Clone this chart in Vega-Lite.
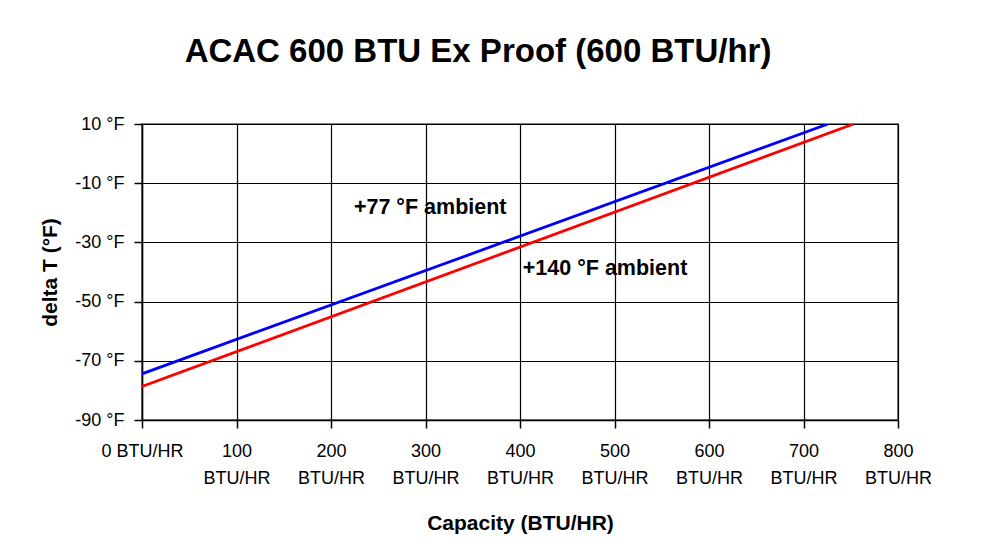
{
  "$schema": "https://vega.github.io/schema/vega-lite/v6.json",
  "width": 756,
  "height": 296,
  "autosize": {"type": "none"},
  "padding": {"left": 142, "top": 124, "right": 89, "bottom": 134},
  "background": "white",
  "title": {
    "text": "ACAC 600 BTU Ex Proof (600 BTU/hr)",
    "font": "Liberation Sans",
    "fontSize": 33,
    "fontWeight": "bold",
    "color": "black",
    "anchor": "middle",
    "frame": "group",
    "dx": -42,
    "baseline": "alphabetic",
    "offset": 20
  },
  "config": {
    "font": "Liberation Sans",
    "view": {"stroke": "#808080", "strokeWidth": 2},
    "axis": {
      "labelFont": "Liberation Sans",
      "labelFontSize": 18,
      "labelColor": "black",
      "titleFont": "Liberation Sans",
      "titleFontSize": 21,
      "titleFontWeight": "bold",
      "titleColor": "black",
      "domainColor": "black",
      "domainWidth": 1.5,
      "tickColor": "black",
      "tickWidth": 1.5,
      "tickSize": 8,
      "gridColor": "black",
      "gridWidth": 1.2,
      "gridOpacity": 1
    }
  },
  "datasets": {
    "lines": [
      {"capacity": 0, "deltaT": -74.4, "series": "+77 °F ambient"},
      {"capacity": 726, "deltaT": 10, "series": "+77 °F ambient"},
      {"capacity": 0, "deltaT": -78.7, "series": "+140 °F ambient"},
      {"capacity": 753, "deltaT": 10, "series": "+140 °F ambient"}
    ],
    "labels": [
      {"capacity": 305, "deltaT": -18.4, "label": "+77 °F ambient"},
      {"capacity": 490, "deltaT": -39, "label": "+140 °F ambient"}
    ]
  },
  "layer": [
    {
      "data": {"name": "lines"},
      "mark": {"type": "line", "strokeWidth": 2.8, "clip": true},
      "encoding": {
        "x": {
          "field": "capacity",
          "type": "quantitative",
          "scale": {"domain": [0, 800], "nice": false, "zero": false},
          "axis": {
            "title": "Capacity (BTU/HR)",
            "values": [0, 100, 200, 300, 400, 500, 600, 700, 800],
            "labelExpr": "datum.value == 0 ? '0 BTU/HR' : [datum.value + '', 'BTU/HR']",
            "labelLineHeight": 27,
            "labelPadding": 14,
            "labelFlush": false,
            "labelOverlap": false,
            "titlePadding": 25,
            "grid": true
          }
        },
        "y": {
          "field": "deltaT",
          "type": "quantitative",
          "scale": {"domain": [-90, 10], "nice": false, "zero": false},
          "axis": {
            "title": "delta T (°F)",
            "values": [-90, -70, -50, -30, -10, 10],
            "labelExpr": "datum.value + ' °F'",
            "labelPadding": 10,
            "labelFlush": false,
            "labelOverlap": false,
            "titlePadding": 14,
            "grid": true
          }
        },
        "color": {
          "field": "series",
          "type": "nominal",
          "scale": {"domain": ["+77 °F ambient", "+140 °F ambient"], "range": ["#0000FF", "#FF0000"]},
          "legend": null
        }
      }
    },
    {
      "data": {"name": "labels"},
      "mark": {"type": "text", "font": "Liberation Sans", "fontSize": 21.5, "fontWeight": "bold", "color": "black", "align": "center", "baseline": "middle"},
      "encoding": {
        "x": {"field": "capacity", "type": "quantitative"},
        "y": {"field": "deltaT", "type": "quantitative"},
        "text": {"field": "label"}
      }
    }
  ]
}
